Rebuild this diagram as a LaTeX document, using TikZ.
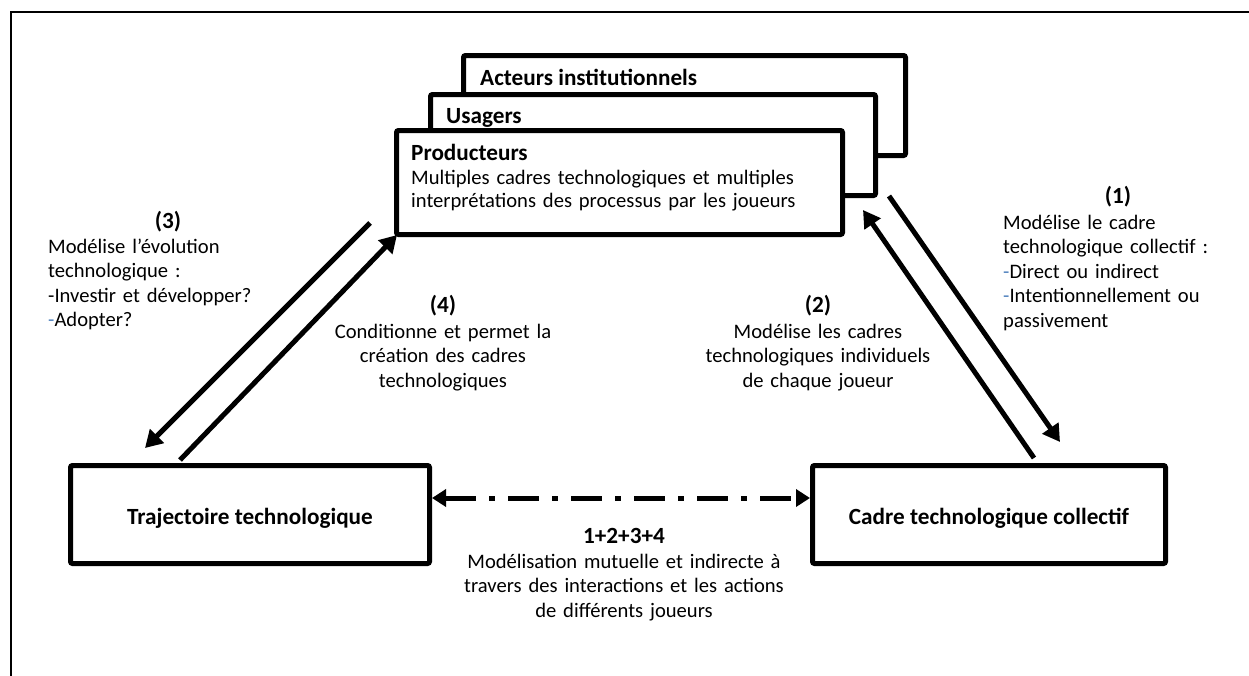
\documentclass[tikz,border=0pt]{standalone}
\usepackage{fontspec}
\setmainfont{Carlito}
\usetikzlibrary{arrows.meta}
\definecolor{dashblue}{RGB}{79,129,189}
\newcommand{\regsize}{\fontsize{20.6}{24.5}\selectfont}
\newcommand{\boldsize}{\fontsize{23.2}{24.5}\selectfont\bfseries}
\begin{document}
\begin{tikzpicture}[x=1pt,y=-1pt,
  box/.style={draw, line width=5pt, rounded corners=2pt, fill=white, inner sep=0pt},
  txt/.style={inner sep=0pt, font=\regsize},
  hdr/.style={inner sep=0pt, font=\boldsize},
  flow/.style={line width=5pt, -{Triangle[length=17pt,width=19pt]}},
  mutual/.style={line width=5pt, dash pattern=on 31pt off 13pt on 6pt off 13pt,
    {Triangle[length=14pt,width=17pt]}-{Triangle[length=14pt,width=17pt]}}
]
\useasboundingbox (0,0) rectangle (1249,675);
% frame
\draw[line width=2pt] (11,700) -- (11,12) -- (1260,12);

% stacked actor boxes
\node[box, minimum width=442pt, minimum height=100pt] (acteurs) at (684.5,105.5) {};
\node[hdr, anchor=base west] (acteurslbl) at (480,85) {Acteurs institutionnels};
\node[box, minimum width=445pt, minimum height=101pt] (usagers) at (653,145) {};
\node[hdr, anchor=base west] (usagerslbl) at (446,123) {Usagers};
\node[box, minimum width=446pt, minimum height=104pt] (prod) at (619.5,182.5) {};
\node[hdr, anchor=base west] (prodlbl) at (411,160) {Producteurs};
\node[txt, anchor=base west, text width=430pt, align=left, font=\fontsize{20.6}{23}\selectfont] (prodtxt) at (411,184)
  {Multiples cadres technologiques et multiples\\interprétations des processus par les joueurs};

% bottom boxes
\node[box, minimum width=359pt, minimum height=98pt, text height=20pt, text depth=0pt, font=\boldsize] (traj) at (250,514.5) {Trajectoire technologique};
\node[box, minimum width=353pt, minimum height=98pt, text height=20pt, text depth=0pt, font=\boldsize] (cadre) at (989,514.5) {Cadre technologique collectif};

% connector end points
\coordinate (a3s) at (370,223);
\coordinate (a3e) at (145,448);
\coordinate (a4s) at (180,460);
\coordinate (a4e) at (397,235);
\coordinate (a1s) at (889,196);
\coordinate (a1e) at (1060,442);
\coordinate (a2s) at (1034,458);
\coordinate (a2e) at (863,210);
\coordinate (mL) at (432,498);
\coordinate (mR) at (810,498);

\draw[flow] (a3s) -- (a3e);
\draw[flow] (a4s) -- (a4e);
\draw[flow] (a1s) -- (a1e);
\draw[flow] (a2s) -- (a2e);
\draw[mutual] (mL) -- (mR);

% labels
\node[hdr, anchor=base] (n3) at (168,228) {(3)};
\node[txt, anchor=base west, text width=260pt, align=left] (t3) at (48,253)
  {Modélise l’évolution\\technologique :\\-Investir et développer?\\\textcolor{dashblue}{-}Adopter?};

\node[hdr, anchor=base] (n1) at (1118,203) {(1)};
\node[txt, anchor=base west, text width=240pt, align=left] (t1) at (1003,229)
  {Modélise le cadre\\technologique collectif :\\\textcolor{dashblue}{-}Direct ou indirect\\\textcolor{dashblue}{-}Intentionnellement ou\\passivement};

\node[hdr, anchor=base] (n2) at (818,312) {(2)};
\node[txt, anchor=base, text width=300pt, align=center] (t2) at (818,338)
  {Modélise les cadres\\technologiques individuels\\de chaque joueur};

\node[hdr, anchor=base] (n4) at (443,312) {(4)};
\node[txt, anchor=base, text width=300pt, align=center] (t4) at (443,338)
  {Conditionne et permet la\\création des cadres\\technologiques};

\node[hdr, anchor=base] (n5) at (624,543) {1+2+3+4};
\node[txt, anchor=base, text width=400pt, align=center] (t5) at (624,568)
  {Modélisation mutuelle et indirecte à\\travers des interactions et les actions\\de différents joueurs};
\end{tikzpicture}
\end{document}
